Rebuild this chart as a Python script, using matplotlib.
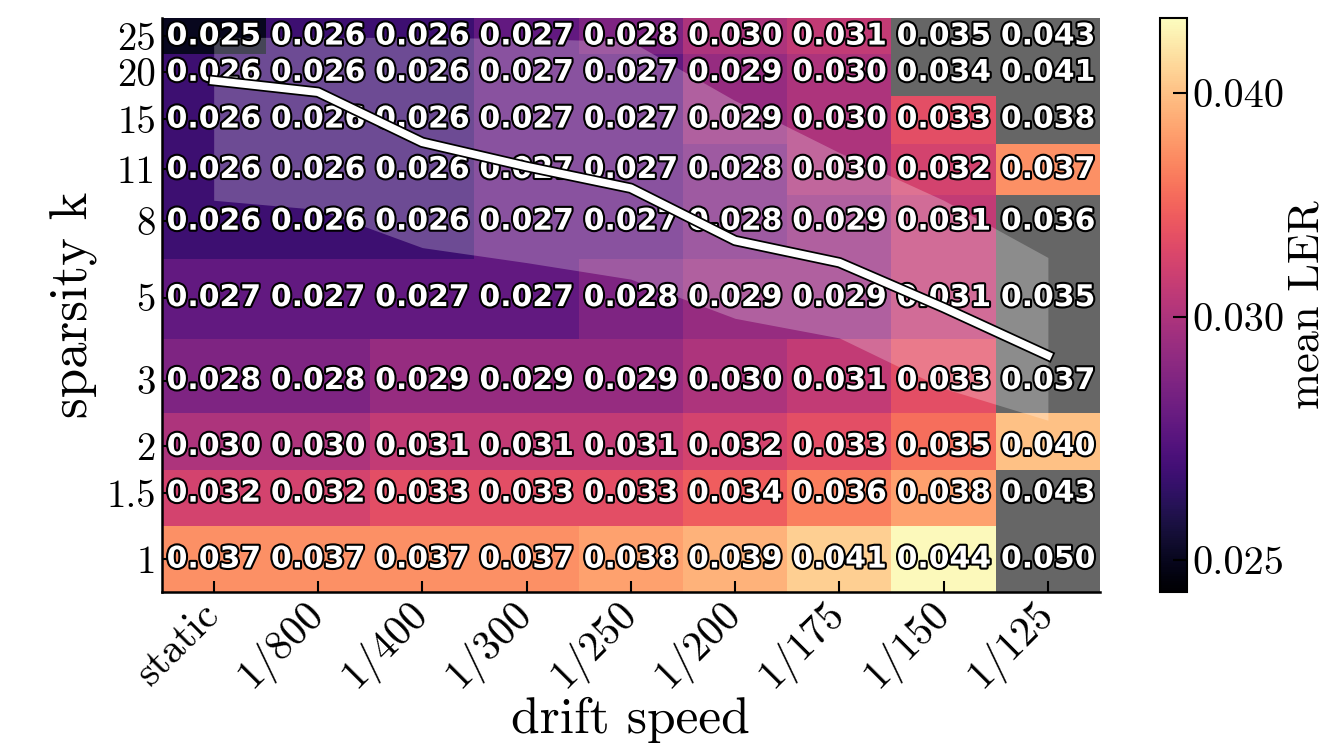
import numpy as np
import matplotlib
matplotlib.use('Agg')
import matplotlib.pyplot as plt
import matplotlib.colors as mcolors
import matplotlib.patheffects as pe
from matplotlib.ticker import NullLocator, FixedLocator, FixedFormatter

speeds = ['static', '1/800', '1/400', '1/300', '1/250', '1/200', '1/175', '1/150', '1/125']
k_vals = [1, 1.5, 2, 3, 5, 8, 11, 15, 20, 25]
k_labels = ['1', '1.5', '2', '3', '5', '8', '11', '15', '20', '25']

# mean LER, rows = k (bottom to top), cols = drift speed
ler = [
    [0.037, 0.037, 0.037, 0.037, 0.038, 0.039, 0.041, 0.044, 0.050],
    [0.032, 0.032, 0.033, 0.033, 0.033, 0.034, 0.036, 0.038, 0.043],
    [0.030, 0.030, 0.031, 0.031, 0.031, 0.032, 0.033, 0.035, 0.040],
    [0.028, 0.028, 0.029, 0.029, 0.029, 0.030, 0.031, 0.033, 0.037],
    [0.027, 0.027, 0.027, 0.027, 0.028, 0.029, 0.029, 0.031, 0.035],
    [0.026, 0.026, 0.026, 0.027, 0.027, 0.028, 0.029, 0.031, 0.036],
    [0.026, 0.026, 0.026, 0.027, 0.027, 0.028, 0.030, 0.032, 0.037],
    [0.026, 0.026, 0.026, 0.027, 0.027, 0.029, 0.030, 0.033, 0.038],
    [0.026, 0.026, 0.026, 0.027, 0.027, 0.029, 0.030, 0.034, 0.041],
    [0.025, 0.026, 0.026, 0.027, 0.028, 0.030, 0.031, 0.035, 0.043],
]
# cells drawn in gray
hidden = [
    [0, 0, 0, 0, 0, 0, 0, 0, 1],
    [0, 0, 0, 0, 0, 0, 0, 0, 1],
    [0, 0, 0, 0, 0, 0, 0, 0, 0],
    [0, 0, 0, 0, 0, 0, 0, 0, 1],
    [0, 0, 0, 0, 0, 0, 0, 0, 1],
    [0, 0, 0, 0, 0, 0, 0, 0, 1],
    [0, 0, 0, 0, 0, 0, 0, 0, 0],
    [0, 0, 0, 0, 0, 0, 0, 0, 1],
    [0, 0, 0, 0, 0, 0, 0, 1, 1],
    [0, 0, 0, 0, 0, 0, 0, 1, 1],
]

# best k per drift speed and its band
best_k = [19.0, 17.7, 13.0, 11.2, 9.8, 7.1, 6.2, 4.7, 3.5]
band_lo = [9.1, 8.6, 6.8, 6.2, 5.6, 4.4, 3.9, 2.86, 2.35]
band_hi = [24.8, 24.8, 24.8, 24.6, 24.2, 16.8, 12.2, 9.1, 6.4]

plt.rcParams['font.family'] = ['cmr10', 'DejaVu Serif']
plt.rcParams['axes.formatter.use_mathtext'] = True

data = np.ma.masked_array(np.array(ler), mask=np.array(hidden, dtype=bool))
kv = np.array(k_vals, dtype=float)
mids = np.sqrt(kv[:-1] * kv[1:])
y_edges = np.concatenate([[kv[0] / np.sqrt(kv[1] / kv[0])], mids,
                          [kv[-1] * np.sqrt(kv[-1] / kv[-2])]])
x_edges = np.arange(len(speeds) + 1) - 0.5

cmap = plt.get_cmap('magma').copy()
cmap.set_bad('#666666')
norm = mcolors.PowerNorm(gamma=0.55, vmin=0.0249, vmax=0.0444)

fig = plt.figure(figsize=(13.35, 7.47), dpi=100)
ax = fig.add_axes([0.121, 0.2075, 0.703, 0.7685])
cax = fig.add_axes([0.869, 0.2075, 0.0202, 0.7685])

mesh = ax.pcolormesh(x_edges, y_edges, data, cmap=cmap, norm=norm, shading='flat')
ax.set_yscale('log')
ax.set_xlim(-0.5, len(speeds) - 0.5)
ax.set_ylim(y_edges[0], y_edges[-1])

xs = np.arange(len(speeds))
ax.fill_between(xs, band_lo, band_hi, color='white', alpha=0.25, lw=0, zorder=2)

vals = np.array(ler)
for i, k in enumerate(k_vals):
    for j in range(len(speeds)):
        ax.text(j, k, f'{vals[i, j]:.3f}', ha='center', va='center',
                fontsize=21.5, fontweight='bold', color='white',
                family='DejaVu Sans', zorder=3,
                path_effects=[pe.withStroke(linewidth=3, foreground='black')])

ax.plot(xs, best_k, color='white', lw=5.5, zorder=4,
        path_effects=[pe.Stroke(linewidth=8, foreground='black'), pe.Normal()])

ax.yaxis.set_major_locator(FixedLocator(k_vals))
ax.yaxis.set_major_formatter(FixedFormatter(k_labels))
ax.yaxis.set_minor_locator(NullLocator())
ax.set_xticks(xs)
ax.set_xticklabels(speeds, rotation=45, ha='right', va='center',
                   rotation_mode='anchor')
ax.tick_params(direction='in', length=8, width=1.5, labelsize=28, pad=4)
ax.tick_params(axis='x', labelsize=30, pad=12)
for s in ['top', 'right']:
    ax.spines[s].set_visible(False)
for s in ['left', 'bottom']:
    ax.spines[s].set_linewidth(1.8)

ax.set_xlabel('drift speed', fontsize=37)
ax.xaxis.set_label_coords(0.5, -0.182)
ax.set_ylabel('sparsity k', fontsize=38, labelpad=6)

cb = fig.colorbar(mesh, cax=cax)
cb.set_ticks([0.025, 0.030, 0.040])
cb.set_ticklabels(['0.025', '0.030', '0.040'])
cb.ax.minorticks_off()
cb.ax.tick_params(direction='in', length=10, width=1.5, labelsize=29, pad=4)
cb.outline.set_linewidth(1.5)
cb.set_label('mean LER', fontsize=32, labelpad=2)

fig.savefig('out.png', dpi=100)
